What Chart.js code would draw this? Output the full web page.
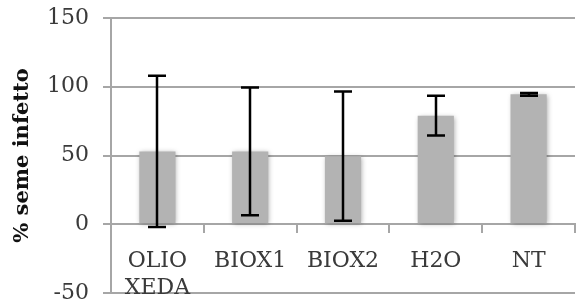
<!DOCTYPE html>
<html><head><meta charset="utf-8">
<script src="https://cdn.jsdelivr.net/npm/chart.js@4/dist/chart.umd.min.js"></script>
<style>html,body{margin:0;padding:0;background:#fff}#wrap{width:579px;height:305px}</style>
</head><body><div id="wrap"><canvas id="c" width="579" height="305"></canvas></div>
<script>
const categories = [["OLIO","XEDA"], "BIOX1", "BIOX2", "H2O", "NT"];
const means = [53, 53, 49.5, 79, 94.5];
const errors = [55, 46.5, 47, 14.5, 1];
const yTicks = [-50, 0, 50, 100, 150];

const FONT = "'DejaVu Serif', 'Liberation Serif', serif";

const errorBarPlugin = {
  id: 'errorBars',
  beforeDatasetDraw(chart) {
    const ctx = chart.ctx;
    ctx.save();
    ctx.shadowColor = 'rgba(0,0,0,0.35)';
    ctx.shadowBlur = 5;
    ctx.shadowOffsetX = 1;
    ctx.shadowOffsetY = 1;
  },
  afterDatasetDraw(chart) {
    chart.ctx.restore();
  },
  afterDatasetsDraw(chart) {
    const ctx = chart.ctx;
    const y = chart.scales.y;
    const meta = chart.getDatasetMeta(0);
    ctx.save();
    ctx.strokeStyle = '#000';
    ctx.lineWidth = 2.5;
    meta.data.forEach((bar, i) => {
      const x = Math.round(bar.x);
      const top = y.getPixelForValue(means[i] + errors[i]);
      const bot = y.getPixelForValue(means[i] - errors[i]);
      const cap = 9;
      ctx.beginPath();
      ctx.moveTo(x, top); ctx.lineTo(x, bot);
      ctx.moveTo(x - cap, top); ctx.lineTo(x + cap, top);
      ctx.moveTo(x - cap, bot); ctx.lineTo(x + cap, bot);
      ctx.stroke();
    });
    ctx.restore();
  }
};

new Chart(document.getElementById('c'), {
  type: 'bar',
  data: {
    labels: categories,
    datasets: [{
      data: means,
      backgroundColor: '#b3b3b3',
      borderWidth: 0,
      barPercentage: 0.39,
      categoryPercentage: 1.0
    }]
  },
  options: {
    responsive: false,
    animation: false,
    devicePixelRatio: 1,
    layout: { padding: { top: 18, right: 4, bottom: 12, left: 0 } },
    plugins: { legend: { display: false }, tooltip: { enabled: false } },
    scales: {
      x: {
        position: { y: 0 },
        offset: true,
        afterFit(s) { s.height = 0; s.paddingLeft = 0; s.paddingRight = 0; s.paddingTop = 0; s.paddingBottom = 0; },
        grid: { display: true, drawOnChartArea: false, drawTicks: true, tickLength: 8, color: '#a6a6a6', lineWidth: 2, offset: true },
        border: { display: true, color: '#a6a6a6', width: 2 },
        ticks: { color: '#3a3a3a', font: { family: FONT, size: 22, lineHeight: 1.25 }, padding: 15, maxRotation: 0, autoSkip: false }
      },
      y: {
        min: -50, max: 150,
        afterBuildTicks(s) { s.ticks = yTicks.map(v => ({ value: v })); },
        afterFit(s) { s.width = 111; s.paddingTop = 0; s.paddingBottom = 0; },
        grid: { color: '#a6a6a6', lineWidth: 2, tickLength: 8 },
        border: { display: true, color: '#a6a6a6', width: 2 },
        ticks: { color: '#3a3a3a', font: { family: FONT, size: 22 }, padding: 14 },
        title: { display: true, text: '% seme infetto', color: '#111', font: { family: FONT, size: 21, weight: 'bold' }, padding: { top: 10, bottom: 4 } }
      }
    }
  },
  plugins: [errorBarPlugin]
});
</script></body></html>
